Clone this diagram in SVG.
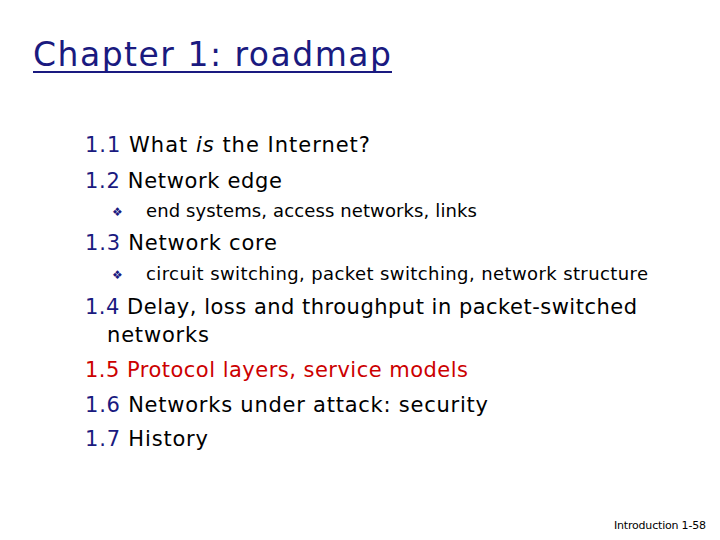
<svg xmlns="http://www.w3.org/2000/svg" width="720" height="540" viewBox="0 0 720 540">
<style>
text{font-family:"DejaVu Sans","Liberation Sans",sans-serif;fill:#000}
.n{fill:#1a1a80}
.t{font-size:21px}
.s{font-size:18px}
.b{font-size:12px;fill:#1a1a80}
.r,.r tspan{fill:#cc0000}
</style>
<rect width="720" height="540" fill="#fff"/>
<g id="title">
<text x="33" y="66" font-size="33" fill="#1a1a80" style="fill:#1a1a80" textLength="358">Chapter 1: roadmap</text>
<line x1="33" y1="72" x2="392" y2="72" stroke="#1a1a80" stroke-width="2"/>
</g>
<g id="items">
<text class="t" x="85" y="152" textLength="285"><tspan class="n">1.1</tspan> What <tspan font-style="italic">is</tspan> the Internet?</text>
<text class="t" x="85" y="188" textLength="197"><tspan class="n">1.2</tspan> Network edge</text>
<text class="b" x="112" y="216">❖</text>
<text class="s" x="146" y="217" textLength="331">end systems, access networks, links</text>
<text class="t" x="85" y="250" textLength="192"><tspan class="n">1.3</tspan> Network core</text>
<text class="b" x="112" y="279">❖</text>
<text class="s" x="146" y="280" textLength="502">circuit switching, packet switching, network structure</text>
<text class="t" x="85" y="314" textLength="552"><tspan class="n">1.4</tspan> Delay, loss and throughput in packet-switched</text>
<text class="t" x="107" y="342" textLength="102">networks</text>
<text class="t r" x="85" y="377" textLength="383">1.5 Protocol layers, service models</text>
<text class="t" x="85" y="412" textLength="403"><tspan class="n">1.6</tspan> Networks under attack: security</text>
<text class="t" x="85" y="446" textLength="123"><tspan class="n">1.7</tspan> History</text>
</g>
<g id="footer">
<text x="614" y="529" font-size="11" textLength="92">Introduction 1-58</text>
</g>
</svg>
